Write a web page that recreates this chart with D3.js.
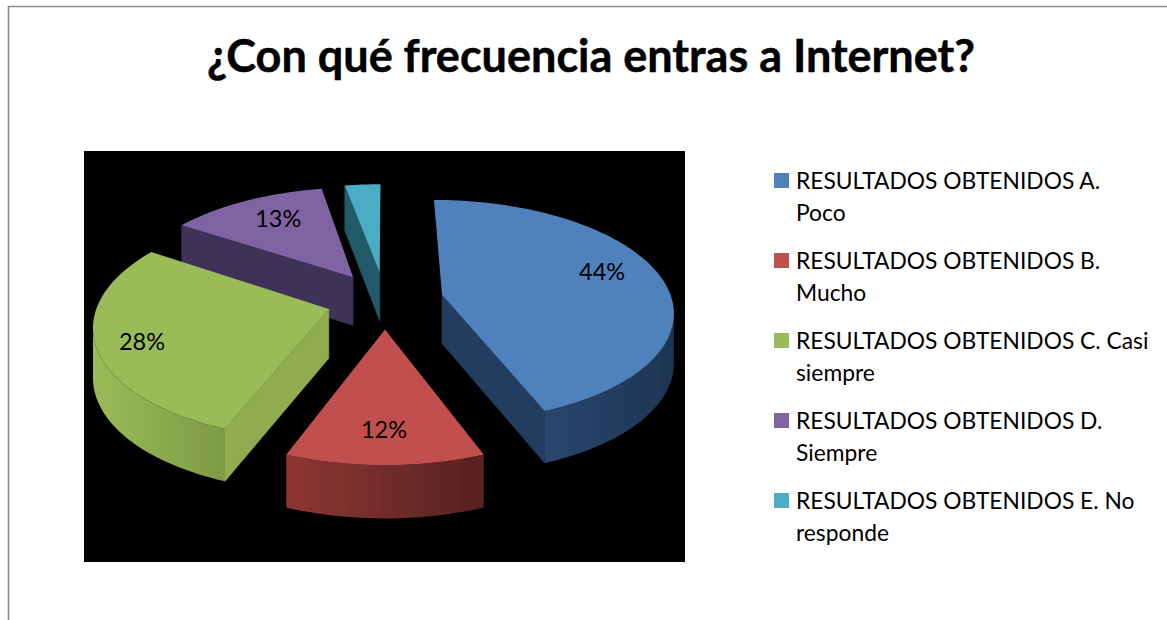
<!DOCTYPE html>
<html><head><meta charset="utf-8">
<script src="https://cdn.jsdelivr.net/npm/d3@7"></script>
<style>html,body{margin:0;padding:0;background:#fff}svg{display:block}</style>
</head><body><svg id="c" width="1167" height="620"></svg>
<script>
const titleText = "¿Con qué frecuencia entras a Internet?";
const categories = ["A. Poco","B. Mucho","C. Casi siempre","D. Siempre","E. No responde"];
const values = [44,12,28,13,3];
const labelTexts = ["44%","12%","28%","13%",""];
const legendLines = [
  ["RESULTADOS OBTENIDOS A.","Poco"],
  ["RESULTADOS OBTENIDOS B.","Mucho"],
  ["RESULTADOS OBTENIDOS C. Casi","siempre"],
  ["RESULTADOS OBTENIDOS D.","Siempre"],
  ["RESULTADOS OBTENIDOS E. No","responde"]
];
const topColors = ["#4f81bd","#c0504d","#9bbb59","#8064a2","#4bacc6"];
const radialWall = ["#233c5e","#6b2c2a","#90ac50","#3e3058","#235a6b"];
const outerWallL = ["#2a4670","#8e3634","#9cba58","#4a3a66","#2a6a7c"];
const outerWallR = ["#1e3552","#562220","#7f9a44","#3e3058","#235a6b"];
const labelPlace = [[.70,7,-9],[.78,-1,-4],[.80,-2,3],[.70,3,-3],[.6,0,0]];

const W=1167,H=620;
const svg=d3.select("#c");
const defs=svg.append("defs");
const font="Lato, 'Open Sans', sans-serif";
defs.append("filter").attr("id","soft").append("feGaussianBlur").attr("stdDeviation",.6);

// page frame
svg.append("path").attr("d","M8.5,620V6.5H1167").attr("fill","none").attr("stroke","#8c8c8c").attr("stroke-width",1.6);

svg.append("text").text(titleText).attr("x",591).attr("y",72)
  .attr("text-anchor","middle").attr("font-family",font).attr("font-weight",700).attr("font-size",45)
  .attr("fill","#000").attr("stroke","#000").attr("stroke-width",.5);

// black plot panel
svg.append("rect").attr("x",84).attr("y",151).attr("width",601).attr("height",411).attr("fill","#000");

// projection of the tilted ground plane
const cx=385,cy=300,R=230,Ry=112,persp=.14,depth=49,explode=.254;
const proj=(u,v,z)=>{
  const s=1+persp*v;
  return [cx+R*u*s, cy+Ry*v*s+(z?depth*(1+.5*persp*v):0)];
};
const line=d3.line();
const color=d3.scaleOrdinal().domain(categories).range(topColors);
const arcs=d3.pie().sort(null).value(d=>d)(values).map((a,i)=>{
  const mid=(a.startAngle+a.endAngle)/2;
  const ox=explode*Math.sin(mid), oy=-explode*Math.cos(mid);
  const n=Math.max(8,Math.round((a.endAngle-a.startAngle)/.03));
  const angs=d3.range(n+1).map(k=>a.startAngle+(a.endAngle-a.startAngle)*k/n);
  const ground=angs.map(t=>[ox+Math.sin(t),oy-Math.cos(t)]);
  return {i,mid,ox,oy,ground,cat:categories[i]};
});
const pie=svg.append("g").attr("filter","url(#soft)");
arcs.slice().sort((a,b)=>(a.oy-Math.cos(a.mid))-(b.oy-Math.cos(b.mid))).forEach(s=>{
  const g=pie.append("g");
  const apex=[s.ox,s.oy];
  const quad=(a,b,fill)=>{
    const pts=[proj(a[0],a[1]),proj(b[0],b[1]),proj(b[0],b[1],1),proj(a[0],a[1],1)];
    g.append("path").attr("d",line(pts)+"Z").attr("fill",fill).attr("stroke",fill).attr("stroke-width",.6);
  };
  // radial walls (only those turned toward the viewer)
  const first=s.ground[0], last=s.ground[s.ground.length-1];
  if(proj(...first)[0]-proj(...apex)[0]<-10) quad(apex,first,radialWall[s.i]);
  if(proj(...apex)[0]-proj(...last)[0]<-10) quad(last,apex,radialWall[s.i]);
  // outer wall
  const front=[];
  s.ground.forEach((p,k)=>{ if(k&&proj(...p)[0]<proj(...s.ground[k-1])[0]){ if(!front.length)front.push(s.ground[k-1]); front.push(p);} });
  if(front.length){
    const top=front.map(p=>proj(p[0],p[1])), bot=front.map(p=>proj(p[0],p[1],1)).reverse();
    const id="w"+s.i, xs=top.map(p=>p[0]);
    const gr=defs.append("linearGradient").attr("id",id).attr("gradientUnits","userSpaceOnUse")
      .attr("x1",d3.min(xs)).attr("x2",d3.max(xs)).attr("y1",0).attr("y2",0);
    gr.append("stop").attr("offset",0).attr("stop-color",outerWallL[s.i]);
    gr.append("stop").attr("offset",1).attr("stop-color",outerWallR[s.i]);
    g.append("path").attr("d",line(top.concat(bot))+"Z").attr("fill",`url(#${id})`);
  }
  // top face
  const face=[proj(...apex)].concat(s.ground.map(p=>proj(...p)));
  g.append("path").attr("d",line(face)+"Z").attr("fill",color(s.cat));
});

// data labels
arcs.forEach(s=>{
  if(!labelTexts[s.i])return;
  const [f,dx,dy]=labelPlace[s.i];
  const p=proj(s.ox+f*Math.sin(s.mid),s.oy-f*Math.cos(s.mid));
  svg.append("text").text(labelTexts[s.i]).attr("x",p[0]+dx).attr("y",p[1]+dy)
    .attr("text-anchor","middle").attr("dominant-baseline","central")
    .attr("font-family",font).attr("font-size",23.5).attr("fill","#000");
});

// legend
const ly=d3.scalePoint().domain(categories).range([181,501]);
const lg=svg.append("g").selectAll("g").data(categories).join("g");
lg.append("rect").attr("x",774).attr("y",d=>ly(d)-8).attr("width",15).attr("height",15).attr("fill",d=>color(d));
lg.each(function(d,i){
  legendLines[i].forEach((t,j)=>{
    d3.select(this).append("text").text(t).attr("x",796).attr("y",ly(d)+32*j+8)
      .attr("font-family",font).attr("font-size",22.8).attr("fill","#000");
  });
});
</script></body></html>
